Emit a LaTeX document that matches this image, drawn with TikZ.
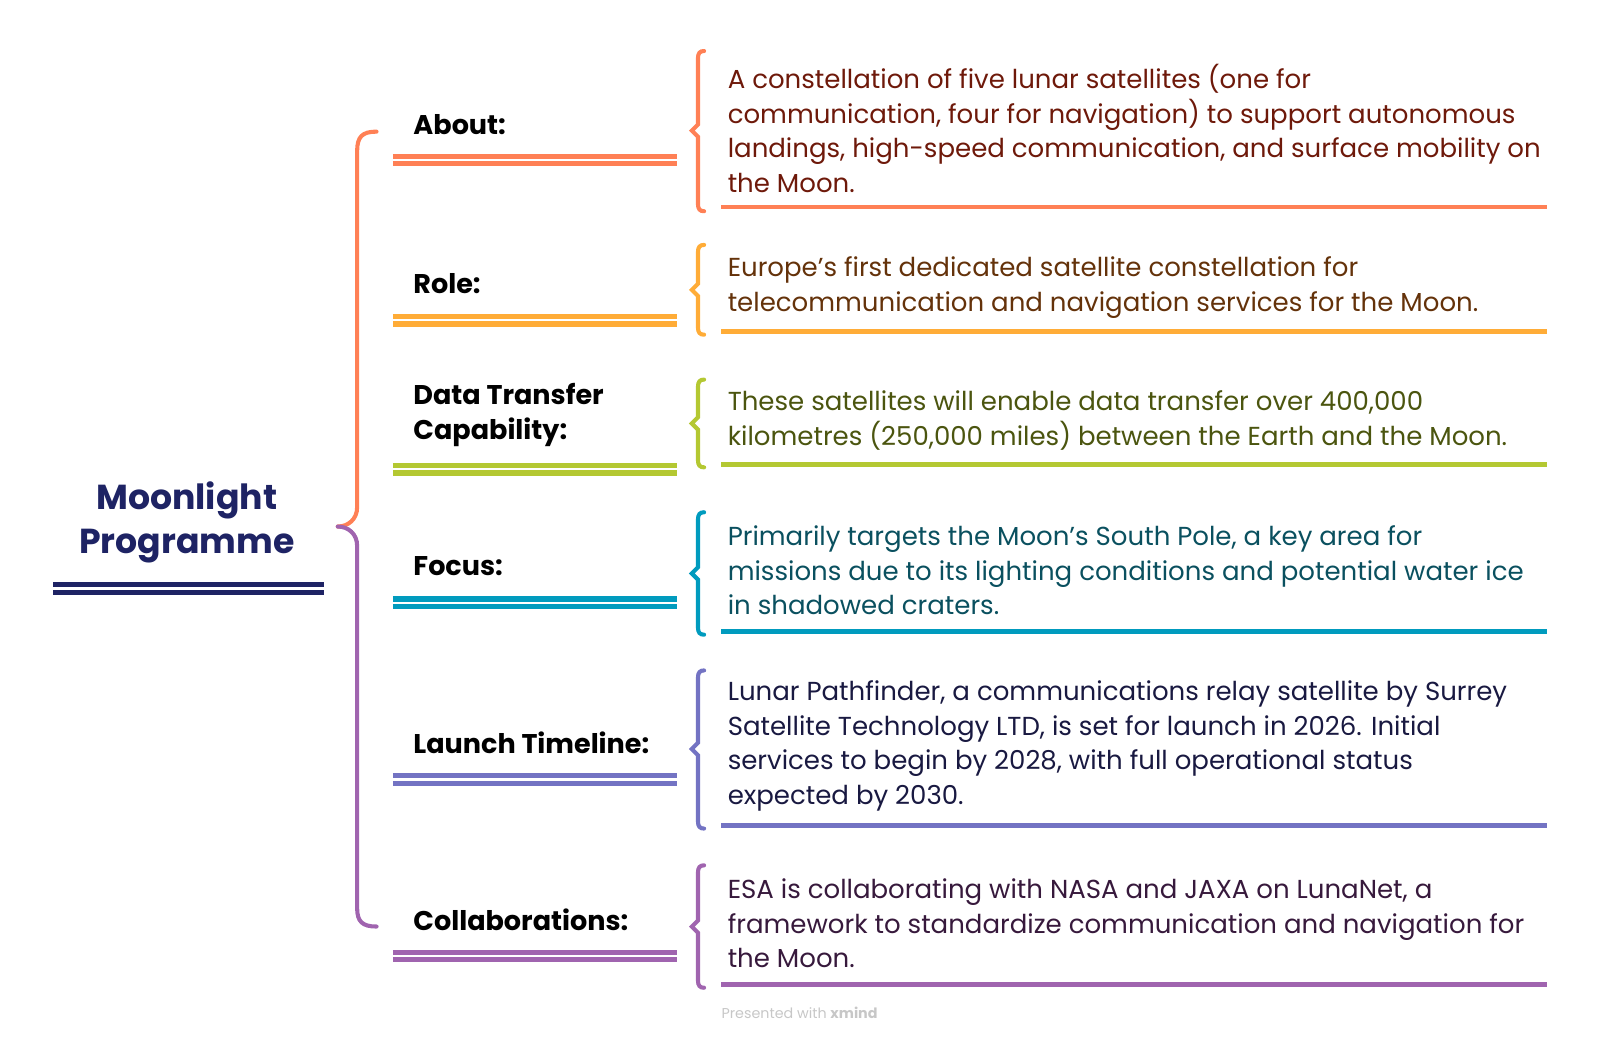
\documentclass[tikz,border=0pt]{standalone}
\usepackage{fontspec}
\setmainfont{Poppins}
\usetikzlibrary{positioning}
\definecolor{cortitulo}{RGB}{30,35,100}
\definecolor{corabout}{RGB}{255,128,85}
\definecolor{corrole}{RGB}{255,172,55}
\definecolor{cordata}{RGB}{180,200,50}
\definecolor{corfocus}{RGB}{0,155,190}
\definecolor{corlaunch}{RGB}{115,115,195}
\definecolor{corcollab}{RGB}{160,100,175}
\definecolor{txtabout}{RGB}{110,25,10}
\definecolor{txtrole}{RGB}{100,50,10}
\definecolor{txtdata}{RGB}{75,85,15}
\definecolor{txtfocus}{RGB}{10,80,95}
\definecolor{txtlaunch}{RGB}{25,25,65}
\definecolor{txtcollab}{RGB}{55,25,60}
\tikzset{
  rotulo/.style={anchor=west, inner sep=0pt, align=left, font=\fontsize{26.5}{34}\selectfont\bfseries},
  texto/.style={anchor=west, inner sep=0pt, align=left, font=\fontsize{25.5}{34}\selectfont},
  chave/.style={line width=4pt, line cap=round},
  barra/.style={line width=5pt},
  sublinha/.style={line width=4.5pt}
}
% chave pequena: x, topo, meio, base, cor
\newcommand\chavinha[5]{
  \draw[#5, chave] (#1+6,#2) .. controls (#1+2,#2) and (#1,#2+2) .. (#1,#2+7)
    -- (#1,#3-6) -- (#1-6,#3) -- (#1,#3+6) -- (#1,#4-7)
    .. controls (#1,#4-2) and (#1+2,#4) .. (#1+6,#4);
}
% duas barras sob o rotulo: y, cor
\newcommand\duplabarra[2]{
  \draw[#2, barra] (385,#1) -- (663,#1);
  \draw[#2, barra] (385,#1+7.5) -- (663,#1+7.5);
}
\begin{document}
\begin{tikzpicture}[x=1pt,y=-1pt]
  \useasboundingbox (0,0) rectangle (1568,1020);
  % titulo
  \node [align=center, inner sep=0pt, text=cortitulo, font=\fontsize{34}{43}\selectfont\bfseries] (titulo) at (183,512) {Moonlight\\Programme};
  \draw[cortitulo, barra] (52,573) -- (318,573);
  \draw[cortitulo, barra] (52,580.5) -- (318,580.5);
  % chave grande
  \coordinate (ponta) at (331,516);
  \draw[corabout, chave] (369,129) .. controls (355,129) and (350,134) .. (350,148) -- (350,497) .. controls (350,509) and (341,516) .. (ponta);
  \draw[corcollab, chave] (ponta) .. controls (341,516) and (350,523) .. (350,535) -- (350,890) .. controls (350,903) and (355,908) .. (369,908);
  % About
  \node [rotulo] (about) at (405,122) {About:};
  \duplabarra{153}{corabout}
  \chavinha{684}{50}{128}{207}{corabout}
  \node [texto, text=txtabout] (aboutt) at (713,126) {A constellation of five lunar satellites (one for\\communication, four for navigation) to support autonomous\\landings, high-speed communication, and surface mobility on\\the Moon.};
  \draw[corabout, sublinha] (707,203) -- (1516,203);
  % Role
  \node [rotulo] (role) at (405,278) {Role:};
  \duplabarra{310}{corrole}
  \chavinha{684}{240}{284}{328}{corrole}
  \node [texto, text=txtrole] (rolet) at (713,282) {Europe’s first dedicated satellite constellation for\\telecommunication and navigation services for the Moon.};
  \draw[corrole, sublinha] (707,325) -- (1516,325);
  % Data Transfer
  \node [rotulo] (data) at (405,407) {Data Transfer\\Capability:};
  \duplabarra{456}{cordata}
  \chavinha{684}{372}{415}{458}{cordata}
  \node [texto, text=txtdata] (datat) at (713,412) {These satellites will enable data transfer over 400,000\\kilometres (250,000 miles) between the Earth and the Moon.};
  \draw[cordata, sublinha] (707,455) -- (1516,455);
  % Focus
  \node [rotulo] (focus) at (405,555) {Focus:};
  \duplabarra{587}{corfocus}
  \chavinha{684}{502}{562}{622}{corfocus}
  \node [texto, text=txtfocus] (focust) at (713,559) {Primarily targets the Moon’s South Pole, a key area for\\missions due to its lighting conditions and potential water ice\\in shadowed craters.};
  \draw[corfocus, sublinha] (707,619) -- (1516,619);
  % Launch Timeline
  \node [rotulo] (launch) at (405,728) {Launch Timeline:};
  \duplabarra{760}{corlaunch}
  \chavinha{684}{657}{734}{812}{corlaunch}
  \node [texto, text=txtlaunch] (launcht) at (713,731) {Lunar Pathfinder, a communications relay satellite by Surrey\\Satellite Technology LTD, is set for launch in 2026. Initial\\services to begin by 2028, with full operational status\\expected by 2030.};
  \draw[corlaunch, sublinha] (707,809) -- (1516,809);
  % Collaborations
  \node [rotulo] (collab) at (405,901) {Collaborations:};
  \duplabarra{933}{corcollab}
  \chavinha{684}{848}{908}{968}{corcollab}
  \node [texto, text=txtcollab] (collabt) at (713,905) {ESA is collaborating with NASA and JAXA on LunaNet, a\\framework to standardize communication and navigation for\\the Moon.};
  \draw[corcollab, sublinha] (707,965) -- (1516,965);
  % marca
  \node [anchor=west, inner sep=0pt, text=black!22, font=\fontsize{14}{16}\selectfont] (marca) at (707,993) {Presented with \textbf{xmind}};
\end{tikzpicture}
\end{document}
